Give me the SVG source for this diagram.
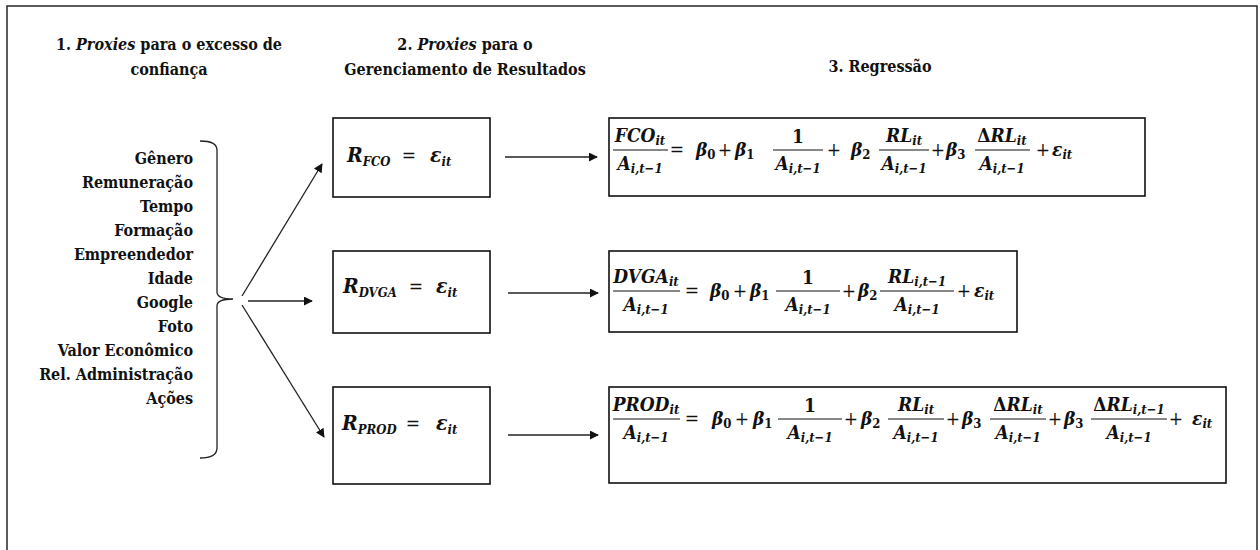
<svg xmlns="http://www.w3.org/2000/svg" width="1260" height="550" viewBox="0 0 1260 550">
<defs>
<marker id="ah" viewBox="0 0 10 10" refX="9" refY="5" markerWidth="9" markerHeight="9" markerUnits="userSpaceOnUse" orient="auto">
<path d="M0,0 L10,5 L0,10 z" fill="#111"/>
</marker>
<style>
text{font-family:'DejaVu Serif Condensed','DejaVu Serif',serif;font-stretch:condensed;fill:#111}
.hd{font-weight:bold;font-size:16px;text-anchor:middle}
.li{font-weight:bold;font-size:16px;text-anchor:end}
.m{font-weight:bold;font-style:italic;font-size:19px}
.r{font-size:21px}
.c{text-anchor:middle}
.s{font-size:13px}
.up{font-style:normal}
.op{font-style:normal;font-weight:normal;text-anchor:middle}
.box{fill:#fff;stroke:#111;stroke-width:1.6}
.fl{stroke:#111;stroke-width:1.2}
.cn{stroke:#222;stroke-width:1.3;fill:none}
</style>
</defs>
<rect x="0" y="0" width="1260" height="550" fill="#fff"/>
<rect x="7" y="6" width="1250" height="580" fill="none" stroke="#333" stroke-width="1.6"/>

<g id="headers">
<text class="hd" x="169" y="50">1. <tspan font-style="italic">Proxies</tspan> para o excesso de</text>
<text class="hd" x="169" y="75">confiança</text>
<text class="hd" x="465" y="50">2. <tspan font-style="italic">Proxies</tspan> para o</text>
<text class="hd" x="465" y="75">Gerenciamento de Resultados</text>
<text class="hd" x="880" y="72">3. Regressão</text>
</g>

<g id="proxies-list">
<text class="li" x="193" y="164">Gênero</text>
<text class="li" x="193" y="188">Remuneração</text>
<text class="li" x="193" y="212">Tempo</text>
<text class="li" x="193" y="236">Formação</text>
<text class="li" x="193" y="260">Empreendedor</text>
<text class="li" x="193" y="284">Idade</text>
<text class="li" x="193" y="308">Google</text>
<text class="li" x="193" y="332">Foto</text>
<text class="li" x="193" y="356">Valor Econômico</text>
<text class="li" x="193" y="380">Rel. Administração</text>
<text class="li" x="193" y="404">Ações</text>
<path class="cn" d="M200,141 Q217,141 217,150 L217,292 Q217,299 233,299 Q217,299 217,306 L217,448 Q217,458 200,458"/>
</g>

<g id="connectors">
<line class="cn" x1="242" y1="296" x2="322" y2="164" marker-end="url(#ah)"/>
<line class="cn" x1="248" y1="301" x2="312" y2="301" marker-end="url(#ah)"/>
<line class="cn" x1="242" y1="305" x2="324" y2="437" marker-end="url(#ah)"/>
<line class="cn" x1="505" y1="157" x2="597" y2="157" marker-end="url(#ah)"/>
<line class="cn" x1="508" y1="293" x2="598" y2="293" marker-end="url(#ah)"/>
<line class="cn" x1="508" y1="435" x2="598" y2="435" marker-end="url(#ah)"/>
</g>

<g id="r-fco">
<rect class="box" x="333" y="118" width="157" height="79"/>
<text class="m r" x="347" y="162">R<tspan class="s" font-size="14" dy="4">FCO</tspan></text>
<text class="m op" x="409" y="162" font-size="21">=</text>
<text class="m r" x="430" y="162">ε<tspan class="s" font-size="14" dy="4">it</tspan></text>
</g>

<g id="r-dvga">
<rect class="box" x="333" y="251" width="157" height="82"/>
<text class="m r" x="343" y="293">R<tspan class="s" font-size="14" dy="4">DVGA</tspan></text>
<text class="m op" x="416" y="293" font-size="21">=</text>
<text class="m r" x="436" y="293">ε<tspan class="s" font-size="14" dy="4">it</tspan></text>
</g>

<g id="r-prod">
<rect class="box" x="333" y="387" width="157" height="97"/>
<text class="m r" x="342" y="430">R<tspan class="s" font-size="14" dy="4">PROD</tspan></text>
<text class="m op" x="413" y="430" font-size="21">=</text>
<text class="m r" x="436" y="430">ε<tspan class="s" font-size="14" dy="4">it</tspan></text>
</g>

<g id="eq-fco">
<rect class="box" x="609" y="118" width="536" height="78"/>
<text class="m c" x="640" y="142">FCO<tspan class="s" dy="3">it</tspan></text>
<line class="fl" x1="613" y1="150" x2="668" y2="150"/>
<text class="m c" x="640" y="170">A<tspan class="s" dy="3">i,t−1</tspan></text>
<text class="m op" x="677" y="156">=</text>
<text class="m" x="696" y="156">β<tspan class="s up" dy="3">0</tspan></text>
<text class="m op" x="725" y="156">+</text>
<text class="m" x="735" y="156">β<tspan class="s up" dy="3">1</tspan></text>
<text class="m up c" x="798" y="143">1</text>
<line class="fl" x1="773" y1="150" x2="823" y2="150"/>
<text class="m c" x="798" y="170">A<tspan class="s" dy="3">i,t−1</tspan></text>
<text class="m op" x="834" y="156">+</text>
<text class="m" x="851" y="156">β<tspan class="s up" dy="3">2</tspan></text>
<text class="m c" x="904" y="142">RL<tspan class="s" dy="3">it</tspan></text>
<line class="fl" x1="879" y1="150" x2="929" y2="150"/>
<text class="m c" x="904" y="170">A<tspan class="s" dy="3">i,t−1</tspan></text>
<text class="m op" x="938" y="156">+</text>
<text class="m" x="946" y="156">β<tspan class="s up" dy="3">3</tspan></text>
<text class="m c" x="1002" y="142"><tspan class="up">Δ</tspan>RL<tspan class="s" dy="3">it</tspan></text>
<line class="fl" x1="975" y1="150" x2="1030" y2="150"/>
<text class="m c" x="1002" y="170">A<tspan class="s" dy="3">i,t−1</tspan></text>
<text class="m op" x="1043" y="156">+</text>
<text class="m" x="1052" y="156">ε<tspan class="s" dy="3">it</tspan></text>
</g>

<g id="eq-dvga">
<rect class="box" x="609" y="251" width="408" height="81"/>
<text class="m c" x="646" y="283">DVGA<tspan class="s" dy="3">it</tspan></text>
<line class="fl" x1="613" y1="291" x2="680" y2="291"/>
<text class="m c" x="646" y="311">A<tspan class="s" dy="3">i,t−1</tspan></text>
<text class="m op" x="692" y="297">=</text>
<text class="m" x="710" y="297">β<tspan class="s up" dy="3">0</tspan></text>
<text class="m op" x="740" y="297">+</text>
<text class="m" x="750" y="297">β<tspan class="s up" dy="3">1</tspan></text>
<text class="m up c" x="808" y="284">1</text>
<line class="fl" x1="776" y1="291" x2="840" y2="291"/>
<text class="m c" x="808" y="311">A<tspan class="s" dy="3">i,t−1</tspan></text>
<text class="m op" x="849" y="297">+</text>
<text class="m" x="858" y="297">β<tspan class="s up" dy="3">2</tspan></text>
<text class="m c" x="917" y="283">RL<tspan class="s" dy="3">i,t−1</tspan></text>
<line class="fl" x1="880" y1="291" x2="954" y2="291"/>
<text class="m c" x="917" y="311">A<tspan class="s" dy="3">i,t−1</tspan></text>
<text class="m op" x="964" y="297">+</text>
<text class="m" x="974" y="297">ε<tspan class="s" dy="3">it</tspan></text>
</g>

<g id="eq-prod">
<rect class="box" x="609" y="387" width="617" height="96"/>
<text class="m c" x="646" y="411">PROD<tspan class="s" dy="3">it</tspan></text>
<line class="fl" x1="613" y1="419" x2="680" y2="419"/>
<text class="m c" x="646" y="439">A<tspan class="s" dy="3">i,t−1</tspan></text>
<text class="m op" x="692" y="425">=</text>
<text class="m" x="712" y="425">β<tspan class="s up" dy="3">0</tspan></text>
<text class="m op" x="742" y="425">+</text>
<text class="m" x="753" y="425">β<tspan class="s up" dy="3">1</tspan></text>
<text class="m up c" x="810" y="412">1</text>
<line class="fl" x1="778" y1="419" x2="842" y2="419"/>
<text class="m c" x="810" y="439">A<tspan class="s" dy="3">i,t−1</tspan></text>
<text class="m op" x="851" y="425">+</text>
<text class="m" x="861" y="425">β<tspan class="s up" dy="3">2</tspan></text>
<text class="m c" x="916" y="411">RL<tspan class="s" dy="3">it</tspan></text>
<line class="fl" x1="888" y1="419" x2="944" y2="419"/>
<text class="m c" x="916" y="439">A<tspan class="s" dy="3">i,t−1</tspan></text>
<text class="m op" x="953" y="425">+</text>
<text class="m" x="962" y="425">β<tspan class="s up" dy="3">3</tspan></text>
<text class="m c" x="1018" y="411"><tspan class="up">Δ</tspan>RL<tspan class="s" dy="3">it</tspan></text>
<line class="fl" x1="990" y1="419" x2="1046" y2="419"/>
<text class="m c" x="1018" y="439">A<tspan class="s" dy="3">i,t−1</tspan></text>
<text class="m op" x="1055" y="425">+</text>
<text class="m" x="1064" y="425">β<tspan class="s up" dy="3">3</tspan></text>
<text class="m c" x="1129" y="411"><tspan class="up">Δ</tspan>RL<tspan class="s" dy="3">i,t−1</tspan></text>
<line class="fl" x1="1091" y1="419" x2="1167" y2="419"/>
<text class="m c" x="1129" y="439">A<tspan class="s" dy="3">i,t−1</tspan></text>
<text class="m op" x="1176" y="425">+</text>
<text class="m" x="1192" y="425">ε<tspan class="s" dy="3">it</tspan></text>
</g>
</svg>
